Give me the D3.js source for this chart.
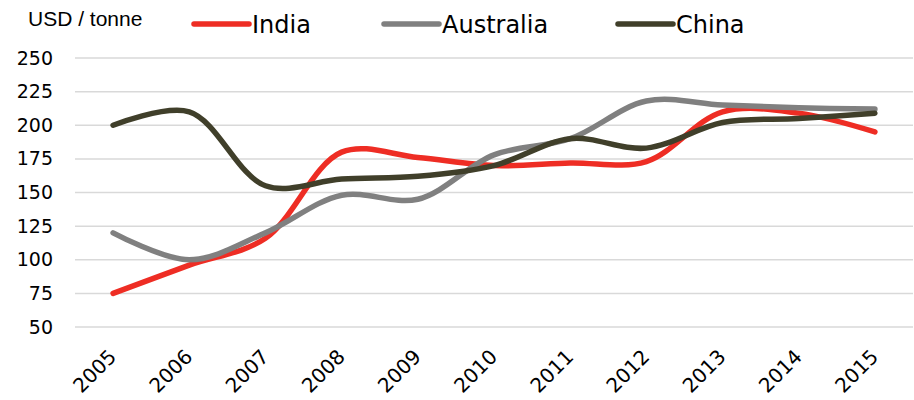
<!DOCTYPE html>
<html>
<head>
<meta charset="utf-8">
<script src="https://cdn.jsdelivr.net/npm/d3@7"></script>
<style>
  body { margin: 0; background: #fff; }
  svg { display: block; }
</style>
</head>
<body>
<div class="chart"></div>
<script>
// chart data
var years = ['2005', '2006', '2007', '2008', '2009', '2010', '2011', '2012', '2013', '2014', '2015'];
var india = [75, 96, 116, 180, 176, 170, 172, 173, 210, 209, 195];
var australia = [120, 100, 120, 148, 145, 178, 190, 218, 215, 213, 212];
var china = [200, 210, 155, 160, 162, 170, 190, 183, 202, 205, 209];
var seriesNames = ['India', 'Australia', 'China'];
var yTicks = [50, 75, 100, 125, 150, 175, 200, 225, 250];

var colors = { India: '#ee2d24', Australia: '#808080', China: '#403f2a' };

var config = {
  width: 914,
  height: 400,
  plot: { left: 75, right: 913, top: 58, bottom: 327 }
};

var series = [
  { name: 'India', values: india },
  { name: 'Australia', values: australia },
  { name: 'China', values: china }
];

var translate = (x, y) => 'translate(' + x + ',' + y + ')';

var svg = d3.select('.chart').append('svg')
  .attr('width', config.width)
  .attr('height', config.height);

var xScale = d3.scalePoint()
  .domain(years)
  .range([config.plot.left, config.plot.right])
  .padding(0.5);

var yScale = d3.scaleLinear()
  .domain([50, 250])
  .range([config.plot.bottom, config.plot.top]);

// gridlines
svg.append('g')
  .selectAll('line')
  .data(yTicks)
  .enter().append('line')
  .attr('x1', config.plot.left)
  .attr('x2', config.plot.right)
  .attr('y1', d => yScale(d))
  .attr('y2', d => yScale(d))
  .attr('stroke', '#d9d9d9')
  .attr('stroke-width', 1.5);

// y axis, no domain line
var yAxis = d3.axisLeft(yScale)
  .tickValues(yTicks)
  .tickSize(0)
  .tickPadding(0);

svg.append('g')
  .attr('class', 'y axis')
  .attr('transform', translate(53, 0))
  .call(yAxis)
  .call(g => g.select('.domain').remove())
  .selectAll('text')
  .attr('font-family', 'DejaVu Sans, Verdana, sans-serif')
  .attr('font-size', '19px')
  .attr('fill', '#000');

// x axis, rotated labels
var xAxis = d3.axisBottom(xScale)
  .tickSize(0)
  .tickPadding(0);

svg.append('g')
  .attr('class', 'x axis')
  .attr('transform', translate(0, config.plot.bottom))
  .call(xAxis)
  .call(g => g.select('.domain').remove())
  .selectAll('text')
  .attr('font-family', 'DejaVu Sans, Verdana, sans-serif')
  .attr('font-size', '20px')
  .attr('fill', '#000')
  .attr('text-anchor', 'end')
  .attr('dy', 0)
  .attr('transform', 'translate(4,31) rotate(-45)');

// lines
var line = d3.line()
  .x((d, i) => xScale(years[i]))
  .y(d => yScale(d))
  .curve(d3.curveCatmullRom.alpha(0.5));

svg.append('g')
  .selectAll('path')
  .data(series)
  .enter().append('path')
  .attr('d', d => line(d.values))
  .attr('fill', 'none')
  .attr('stroke', d => colors[d.name])
  .attr('stroke-width', 5.5)
  .attr('stroke-linecap', 'round')
  .attr('stroke-linejoin', 'round');

// unit label
svg.append('text')
  .text('USD / tonne')
  .attr('x', 28)
  .attr('y', 26)
  .attr('font-family', 'Liberation Sans, Arial, sans-serif')
  .attr('font-size', '21px')
  .attr('fill', '#000');

// legend
var legendX = { India: 194, Australia: 384, China: 618 };
var legend = svg.append('g')
  .selectAll('g')
  .data(seriesNames)
  .enter().append('g')
  .attr('transform', d => translate(legendX[d], 24));

legend.append('line')
  .attr('x1', 0)
  .attr('x2', 55)
  .attr('y1', 0)
  .attr('y2', 0)
  .attr('stroke', d => colors[d])
  .attr('stroke-width', 5.5)
  .attr('stroke-linecap', 'round');

legend.append('text')
  .text(d => d)
  .attr('x', 58)
  .attr('y', 9)
  .attr('font-family', 'DejaVu Sans, Verdana, sans-serif')
  .attr('font-size', '24px')
  .attr('fill', '#000');
</script>
</body>
</html>
